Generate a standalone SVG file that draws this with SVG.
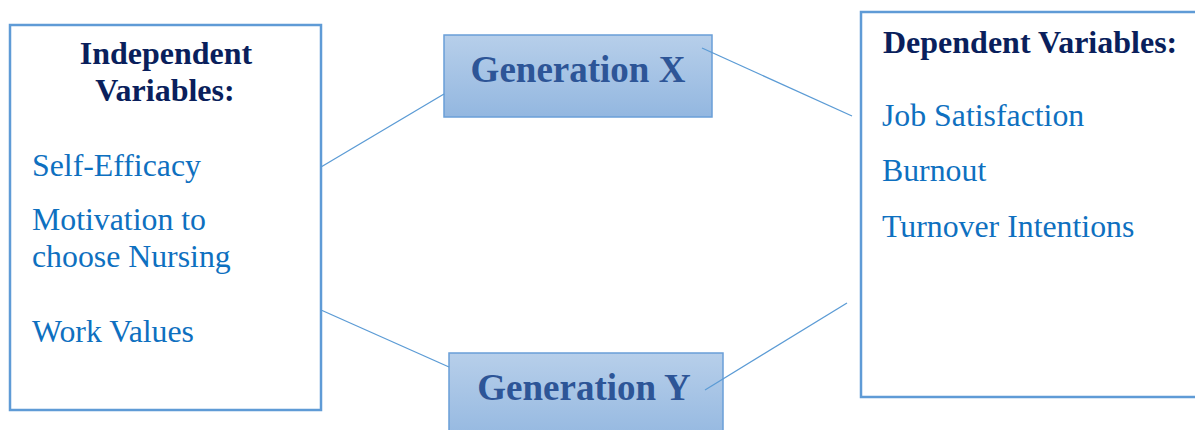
<svg xmlns="http://www.w3.org/2000/svg" width="1195" height="430" viewBox="0 0 1195 430">
<defs>
<linearGradient id="gen" x1="0" y1="0" x2="0" y2="1">
<stop offset="0" stop-color="#b7cfea"/>
<stop offset="1" stop-color="#93b7e0"/>
</linearGradient>
<style>
.box{fill:#ffffff;stroke:#5f9bd6;stroke-width:2.5}
.gbox{fill:url(#gen);stroke:#6a9fd8;stroke-width:1.5}
.head{font-family:"Liberation Serif",serif;font-weight:bold;font-size:32px;fill:#0a1f5c}
.item{font-family:"Liberation Serif",serif;font-size:31.8px;fill:#0e70c0}
.gtext{font-family:"Liberation Serif",serif;font-weight:bold;font-size:37px;fill:#2d5597;text-anchor:middle}
.conn{stroke:#5b9bd5;stroke-width:1.3;fill:none}
</style>
</defs>
<g id="independent">
<rect class="box" x="10" y="25" width="311" height="385"/>
<text class="head" x="166" y="64" text-anchor="middle">Independent</text>
<text class="head" x="165" y="101" text-anchor="middle">Variables:</text>
<text class="item" x="32" y="176">Self-Efficacy</text>
<text class="item" x="32" y="230">Motivation to</text>
<text class="item" x="32" y="267">choose Nursing</text>
<text class="item" x="32" y="342">Work Values</text>
</g>
<g id="genx">
<rect class="gbox" x="444" y="35" width="268" height="82"/>
<text class="gtext" x="578" y="82">Generation X</text>
</g>
<g id="geny">
<rect class="gbox" x="449" y="353" width="274" height="90"/>
<text class="gtext" x="584" y="400">Generation Y</text>
</g>
<g id="dependent">
<rect class="box" x="861" y="12" width="350" height="385"/>
<text class="head" x="883" y="53">Dependent Variables:</text>
<text class="item" x="882" y="126">Job Satisfaction</text>
<text class="item" x="882" y="181">Burnout</text>
<text class="item" x="882" y="237">Turnover Intentions</text>
</g>
<g id="connectors">
<line class="conn" x1="321" y1="167" x2="444" y2="94"/>
<line class="conn" x1="321" y1="310" x2="449" y2="367"/>
<line class="conn" x1="702" y1="48" x2="852" y2="116"/>
<line class="conn" x1="705" y1="390" x2="847" y2="303"/>
</g>
</svg>
